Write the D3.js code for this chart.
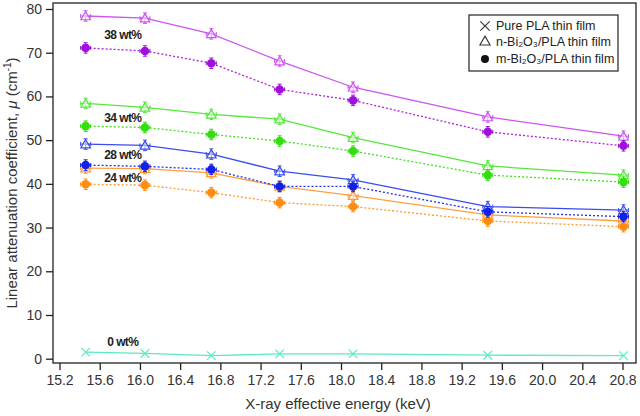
<!DOCTYPE html>
<html><head><meta charset="utf-8">
<script src="https://cdn.jsdelivr.net/npm/d3@7"></script>
<style>body{margin:0;background:#fff}svg{display:block}text{font-family:"Liberation Sans",Arial,sans-serif}</style>
</head><body><svg id="c" width="640" height="416"></svg>
<script>
const energies = [15.46, 16.05, 16.71, 17.39, 18.12, 19.46, 20.81];
const pure0 = [1.5, 1.2, 0.7, 1.1, 1.1, 0.8, 0.7];
const n24 = [43.6, 43.5, 42.5, 39.4, 37.3, 32.9, 31.5];
const m24 = [39.9, 39.7, 38.0, 35.7, 34.8, 31.5, 30.2];
const n28 = [49.1, 48.8, 46.8, 42.9, 40.9, 34.8, 34.0];
const m28 = [44.3, 44.0, 43.3, 39.4, 39.4, 33.6, 32.5];
const n34 = [58.4, 57.5, 55.9, 54.8, 50.6, 44.1, 42.0];
const m34 = [53.2, 52.9, 51.3, 49.8, 47.5, 42.0, 40.4];
const n38 = [78.4, 77.9, 74.3, 68.1, 62.1, 55.3, 50.9];
const m38 = [71.1, 70.4, 67.6, 61.6, 59.1, 51.9, 48.7];
const yErr = 1.2, xErr = 0.05;
const xTicks = [15.2,15.6,16.0,16.4,16.8,17.2,17.6,18.0,18.4,18.8,19.2,19.6,20.0,20.4,20.8];
const yTicks = [0,10,20,30,40,50,60,70,80];
const wtLabels = [["38 wt%",74.1],["34 wt%",55.1],["28 wt%",46.6],["24 wt%",41.3],["0 wt%",3.8]];
const legendItems = ["Pure PLA thin film","n-Bi₂O₃/PLA thin film","m-Bi₂O₃/PLA thin film"];

const series = [
  {v:pure0, kind:"x", line:"#5ee8c4", mark:"#5ee8c4"},
  {v:n24, kind:"n", line:"#ffa040", mark:"#ff9a30"},
  {v:m24, kind:"m", line:"#ff9a30", mark:"#ff8c10"},
  {v:n28, kind:"n", line:"#3a4cf0", mark:"#3a4cf0"},
  {v:m28, kind:"m", line:"#2030ee", mark:"#1020e8"},
  {v:n34, kind:"n", line:"#55e83a", mark:"#55e83a"},
  {v:m34, kind:"m", line:"#44e020", mark:"#33dd10"},
  {v:n38, kind:"n", line:"#cc55f0", mark:"#cc55f0"},
  {v:m38, kind:"m", line:"#b020e0", mark:"#a010dd"}
];

const svg = d3.select("#c");
const L=53, T=3, R=636, B=363;
const x = d3.scaleLinear().domain([15.2,20.8]).range([59.5,622.5]);
const y = d3.scaleLinear().domain([0,80]).range([358.7,9]);

svg.append("rect").attr("x",L).attr("y",T).attr("width",R-L).attr("height",B-T)
  .attr("fill","none").attr("stroke","#222").attr("stroke-width",1.3);

const xa = svg.append("g").attr("transform",`translate(0,${B})`)
  .call(d3.axisBottom(x).tickValues(xTicks).tickFormat(d3.format(".1f")).tickSize(7).tickPadding(5));
const ya = svg.append("g").attr("transform",`translate(${L},0)`)
  .call(d3.axisLeft(y).tickValues(yTicks).tickSize(7).tickPadding(4));
[xa,ya].forEach(a=>{a.select(".domain").remove();
  a.selectAll("line").attr("stroke","#222").attr("stroke-width",1.3);
  a.selectAll("text").attr("fill","#333").style("font-size","14px").style("font-family","Liberation Sans, Arial, sans-serif");});

svg.append("text").attr("x",338).attr("y",409).attr("text-anchor","middle")
  .attr("fill","#333").style("font-size","15px").text("X-ray effective energy (keV)");
const yl = svg.append("text").attr("transform","translate(17,183) rotate(-90)").attr("text-anchor","middle")
  .attr("fill","#333").style("font-size","15px");
yl.append("tspan").text("Linear attenuation coefficient, ");
yl.append("tspan").style("font-style","italic").text("μ");
yl.append("tspan").text(" (cm");
yl.append("tspan").attr("dy",-6).style("font-size","10px").text("-1");
yl.append("tspan").attr("dy",6).text(")");

const line = d3.line().x((d,i)=>x(energies[i])).y(d=>y(d));
const g = svg.append("g");
series.forEach(s=>{
  g.append("path").datum(s.v).attr("d",line).attr("fill","none").attr("stroke",s.line)
    .attr("stroke-width",1.3).attr("stroke-dasharray",s.kind==="m"?"2,2":null);
});
series.forEach(s=>{
  s.v.forEach((v,i)=>{
    const cx=x(energies[i]), cy=y(v);
    if(s.kind!=="x"){
      const eb = g.append("g").attr("stroke",s.mark).attr("stroke-width",1);
      eb.append("line").attr("x1",cx).attr("x2",cx).attr("y1",y(v-yErr)).attr("y2",y(v+yErr));
      eb.append("line").attr("x1",x(energies[i]-xErr)).attr("x2",x(energies[i]+xErr)).attr("y1",cy).attr("y2",cy);
      [y(v-yErr),y(v+yErr)].forEach(yy=>eb.append("line").attr("x1",cx-2).attr("x2",cx+2).attr("y1",yy).attr("y2",yy));
      [x(energies[i]-xErr),x(energies[i]+xErr)].forEach(xx=>eb.append("line").attr("x1",xx).attr("x2",xx).attr("y1",cy-2).attr("y2",cy+2));
    }
    if(s.kind==="n"){
      g.append("path").attr("d",d3.symbol(d3.symbolTriangle,40)()).attr("transform",`translate(${cx},${cy+1})`)
        .attr("fill","#fff").attr("fill-opacity",0.5).attr("stroke",s.mark).attr("stroke-width",1.2);
    } else if(s.kind==="m"){
      g.append("circle").attr("cx",cx).attr("cy",cy).attr("r",4.3).attr("fill",s.mark);
    } else {
      g.append("path").attr("d",d3.symbol(d3.symbolX,50)()).attr("transform",`translate(${cx},${cy})`)
        .attr("fill","none").attr("stroke",s.mark).attr("stroke-width",1.2);
    }
  });
});

wtLabels.forEach(([t,v])=>{
  svg.append("text").attr("x",x(15.83)).attr("y",y(v)).attr("text-anchor","middle").attr("dy","0.35em")
    .attr("fill","#222").style("font-size","12px").style("font-weight","bold").style("letter-spacing","-0.6px").text(t);
});

const lg = svg.append("g");
lg.append("rect").attr("x",469).attr("y",15).attr("width",149).attr("height",56)
  .attr("fill","#fff").attr("stroke","#222").attr("stroke-width",1.2);
const ly = [26,42,59];
legendItems.forEach((t,i)=>{
  lg.append("text").attr("x",496).attr("y",ly[i]).attr("dy","0.35em").attr("fill","#222").style("font-size","12.5px").text(t);
});
lg.append("path").attr("d",d3.symbol(d3.symbolX,60)()).attr("transform",`translate(485,${ly[0]})`)
  .attr("stroke","#333").attr("stroke-width",1.1).attr("fill","none");
lg.append("path").attr("d",d3.symbol(d3.symbolTriangle,45)()).attr("transform",`translate(485,${ly[1]})`)
  .attr("stroke","#333").attr("stroke-width",1.1).attr("fill","none");
lg.append("circle").attr("cx",485).attr("cy",ly[2]).attr("r",4).attr("fill","#111");
</script></body></html>
